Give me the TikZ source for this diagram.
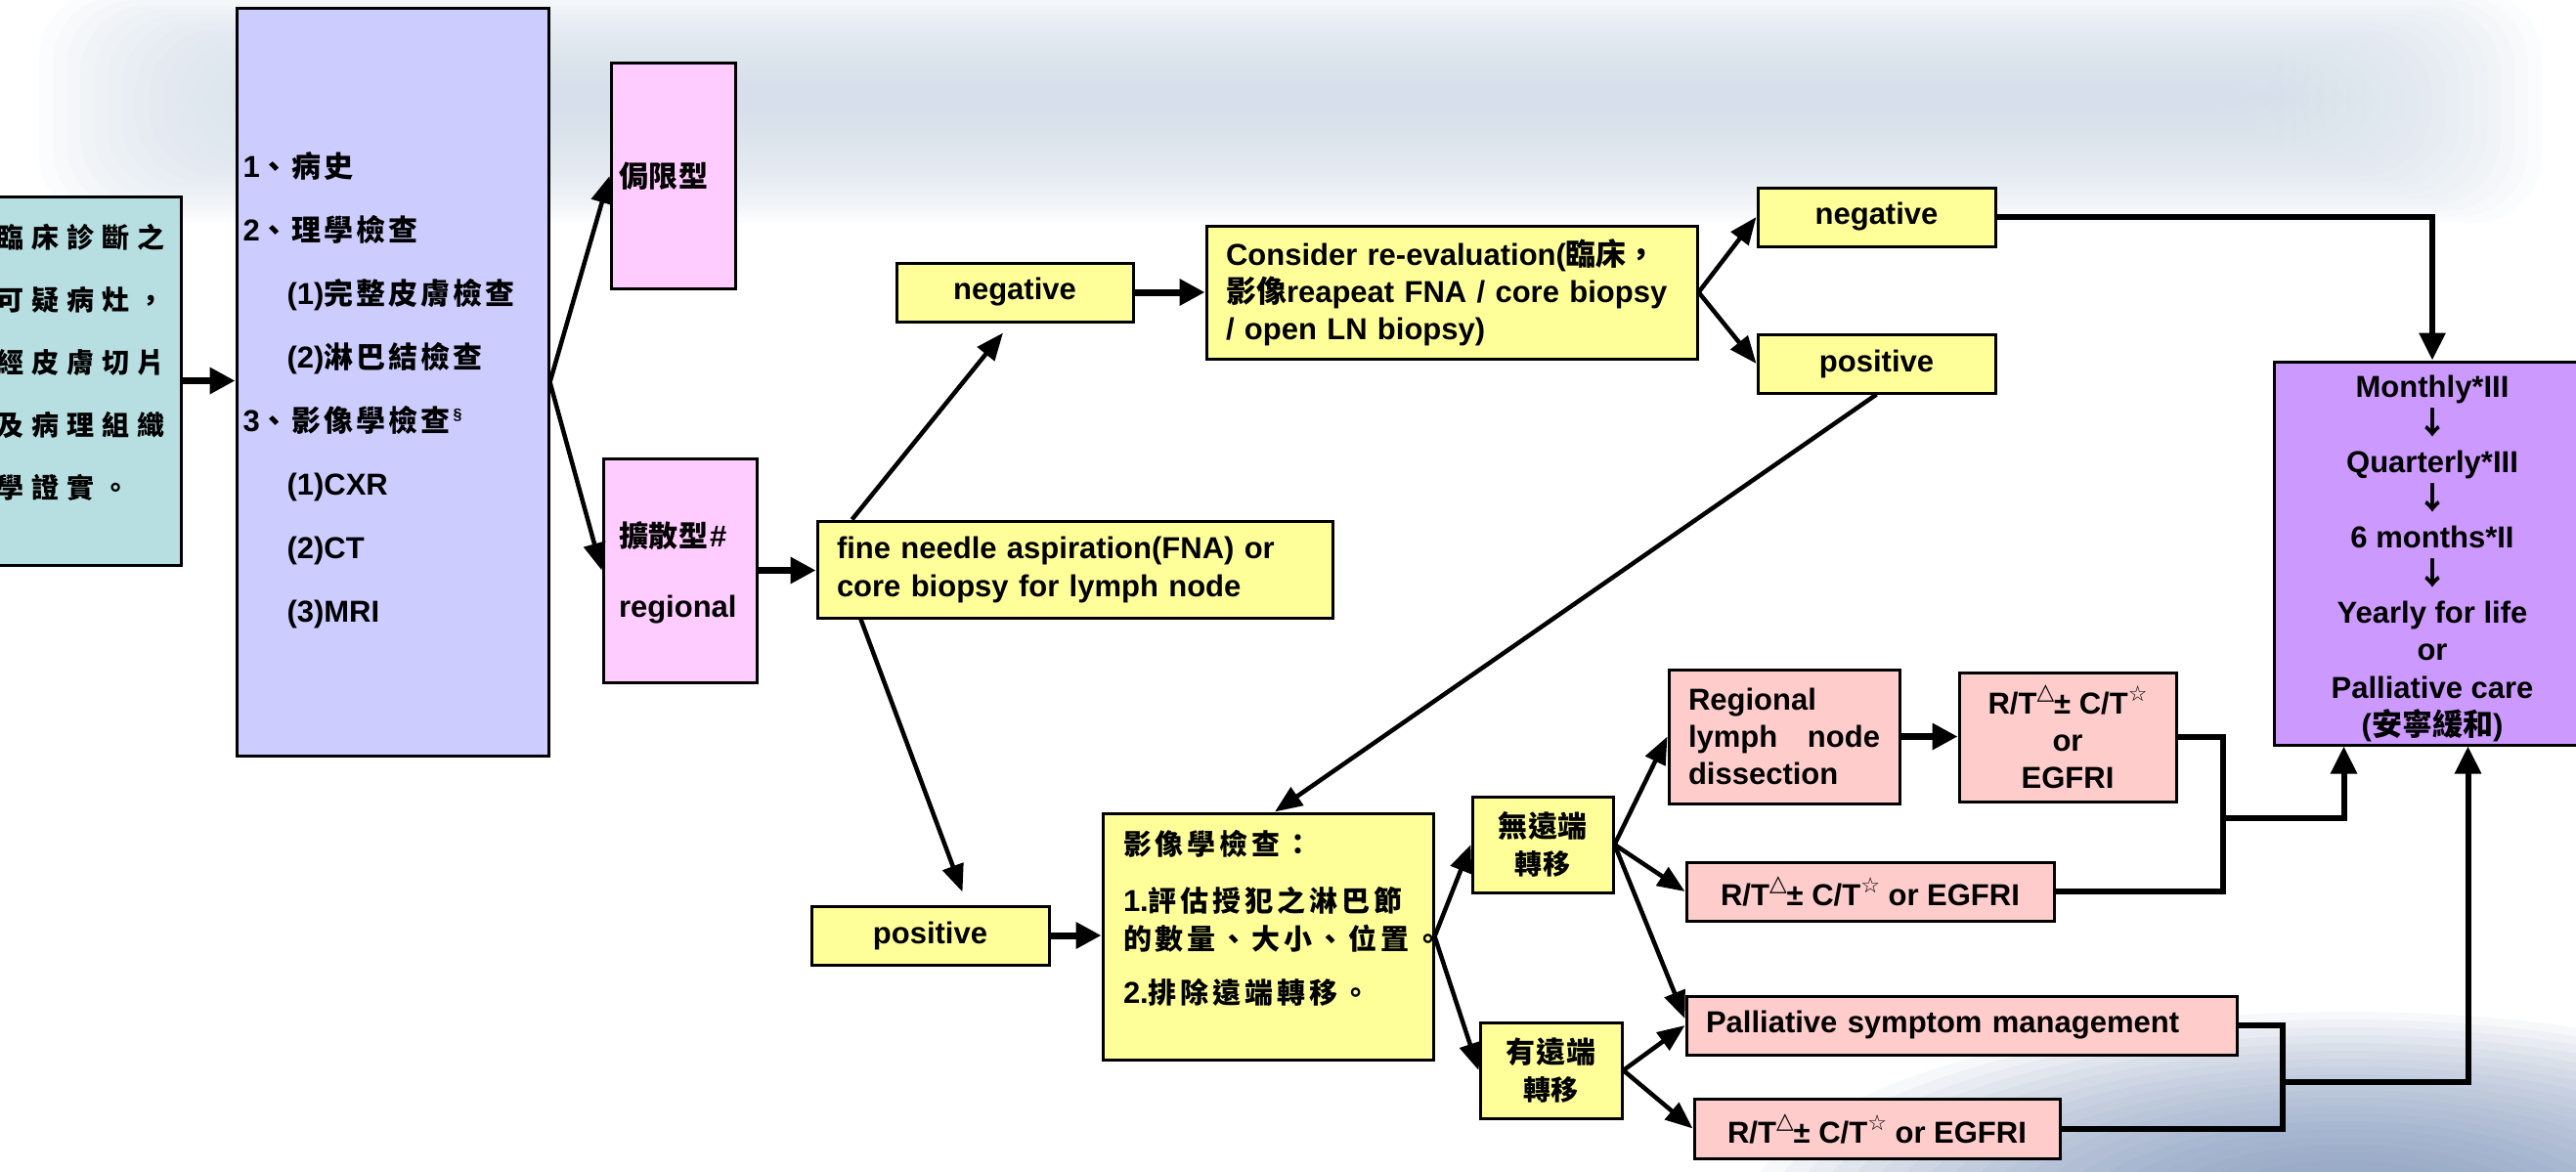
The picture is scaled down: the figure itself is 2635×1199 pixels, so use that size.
\documentclass[tikz,border=0pt]{standalone}
\usepackage{fontspec}
\setmainfont{Liberation Sans}
\newfontfamily\cjkfont{Noto Sans CJK TC Bold}
\newfontfamily\symfont{DejaVu Sans}
\usetikzlibrary{arrows.meta,calc}
\definecolor{cyanbox}{RGB}{183,222,225}
\definecolor{bluebox}{RGB}{204,204,255}
\definecolor{pinkbox}{RGB}{255,204,255}
\definecolor{yelbox}{RGB}{255,255,153}
\definecolor{salbox}{RGB}{255,204,204}
\definecolor{purbox}{RGB}{204,153,255}
\definecolor{cloudc}{RGB}{212,223,236}
\definecolor{cloudd}{RGB}{120,145,185}
\newlength\zgap
\def\zsz{28}
\def\zloop#1{\ifx#1\relax\else#1\hspace{\zgap}\expandafter\zloop\fi}
\newcommand\zs[2][3pt]{{\cjkfont\fontsize{\zsz}{\zsz}\selectfont\setlength\zgap{#1}\zloop#2\relax}}
\newcommand\zh[1]{{\cjkfont #1}}
\newcommand\trisup{\raisebox{15pt}{\symfont\mdseries\fontsize{23}{23}\selectfont △}}
\newcommand\starsup{\raisebox{13pt}{\symfont\mdseries\fontsize{22}{22}\selectfont ☆}}
\newcommand\fuarrow{{\cjkfont\fontsize{32}{32}\selectfont ↓}}
\tikzset{
  box/.style={draw=black, line width=3pt, inner sep=0pt, font=\bfseries\fontsize{31}{38}\selectfont},
  yel/.style={box, fill=yelbox},
  pnk/.style={box, fill=pinkbox},
  sal/.style={box, fill=salbox},
  arr/.style={line width=4.5pt, -{Triangle[length=28pt,width=22pt]}},
  thickarr/.style={line width=7pt, -{Triangle[length=26pt,width=26pt]}},
  elbow/.style={line width=6pt},
  elbowarr/.style={line width=6pt, -{Triangle[length=28pt,width=26pt]}},
}
\begin{document}
\begin{tikzpicture}[x=1pt,y=-1pt]
\useasboundingbox (0,0) rectangle (2635,1199);
\clip (0,0) rectangle (2635,1199);
\fill[white] (0,0) rectangle (2635,1199);
% background clouds
\foreach \i in {0,...,19}{\fill[cloudc, opacity=0.08, rounded corners=70pt] (40+\i*14, -10+\i*5) rectangle (2600-\i*14, 228-\i*6);}
\foreach \i in {0,...,19}{\fill[cloudd, opacity=0.06] (2400,1255) ellipse [x radius=620-\i*24, y radius=220-\i*8];}

% boxes
\node[box, fill=cyanbox, minimum width=200pt, minimum height=377pt, text width=176pt, align=left,
      font=\bfseries\fontsize{28}{64}\selectfont] (diag) at (85,389.5)
  {\zs[8pt]{臨床診斷之}\\\zs[8pt]{可疑病灶，}\\\zs[8pt]{經皮膚切片}\\\zs[8pt]{及病理組織}\\\zs[8pt]{學證實。}\rule[-40pt]{0pt}{0pt}};

\node[box, fill=bluebox, minimum width=319pt, minimum height=764pt, text width=306pt, align=left,
      font=\bfseries\fontsize{31}{65}\selectfont] (hist) at (401.5,391)
  {\def\zsz{30}\rule{0pt}{42pt}1\zs{、病史}\\
   2\zs{、理學檢查}\\
   \hspace*{45pt}(1)\zs{完整皮膚檢查}\\
   \hspace*{45pt}(2)\zs{淋巴結檢查}\\
   3\zs{、影像學檢查}\raisebox{12pt}{\fontsize{16}{16}\selectfont §}\\
   \hspace*{45pt}(1)CXR\\
   \hspace*{45pt}(2)CT\\
   \hspace*{45pt}(3)MRI};

\node[pnk, minimum width=127pt, minimum height=230pt, text width=111pt, align=left] (loc) at (688.5,180)
  {\def\zsz{30}\zs[1pt]{侷限型}};
\node[pnk, minimum width=157pt, minimum height=229pt, text width=125pt, align=left,
      font=\bfseries\fontsize{31}{72}\selectfont] (reg) at (695.5,583.5)
  {\def\zsz{30}\rule{0pt}{30pt}\zs[1pt]{擴散型}\#\\regional};

\node[yel, minimum width=527pt, minimum height=99pt, text width=487pt, align=left,
      font=\bfseries\fontsize{31}{39}\selectfont] (fna) at (1099.5,582.5)
  {fine needle aspiration(FNA) or\\core biopsy for lymph node};
\node[yel, minimum width=242pt, minimum height=60pt] (neg1) at (1038,299) {negative};
\node[yel, minimum width=243pt, minimum height=60pt] (pos1) at (951.5,957) {positive};
\node[yel, minimum width=502pt, minimum height=136pt, text width=462pt, align=left] (cons) at (1485,299)
  {Consider re-evaluation(\zh{臨床，}\\\zh{影像}reapeat FNA / core biopsy\\/ open LN biopsy)};
\node[yel, minimum width=243pt, minimum height=60pt] (neg2) at (1919.5,222) {negative};
\node[yel, minimum width=243pt, minimum height=60pt] (pos2) at (1919.5,372) {positive};

\node[box, fill=purbox, minimum width=324pt, minimum height=392pt, align=center,
      font=\bfseries\fontsize{31}{38.5}\selectfont] (fu) at (2488,566)
  {\rule{0pt}{33pt}Monthly*III\\\fuarrow\\Quarterly*III\\\fuarrow\\6 months*II\\\fuarrow\\Yearly for life\\or\\Palliative care\\(\zh{安寧緩和})};

\node[yel, minimum width=338pt, minimum height=252pt, text width=296pt, align=left,
      font=\bfseries\fontsize{31}{38.5}\selectfont] (img) at (1297,958)
  {\def\zsz{29}\zs[4pt]{影像學檢查：}\\[20pt]
   1.\zs[4pt]{評估授犯之淋巴節}\\
   \makebox[296pt][l]{\zs[4pt]{的數量、大小、位置。}}\\[17pt]
   2.\zs[4pt]{排除遠端轉移。}\rule[-40pt]{0pt}{0pt}};

\node[yel, minimum width=144pt, minimum height=98pt, align=center] (nodm) at (1578,864)
  {\def\zsz{30}\zs[1pt]{無遠端}\\\zs[1pt]{轉移}};
\node[yel, minimum width=145pt, minimum height=98pt, align=center] (dm) at (1586.5,1095)
  {\def\zsz{30}\zs[1pt]{有遠端}\\\zs[1pt]{轉移}};

\node[sal, minimum width=236pt, minimum height=137pt, text width=196pt, align=left] (rlnd) at (1825,753.5)
  {Regional\\lymph\hfill node\\dissection};
\node[sal, minimum width=222pt, minimum height=132pt, align=center] (rt1) at (2115,754)
  {R/T\trisup± C/T\starsup\\or\\EGFRI};
\node[sal, minimum width=376pt, minimum height=60pt] (rt2) at (1913,912)
  {R/T\trisup± C/T\starsup\ or EGFRI};
\node[sal, minimum width=563pt, minimum height=60pt, text width=523pt, align=left] (pal) at (2006.5,1049)
  {Palliative symptom management};
\node[sal, minimum width=374pt, minimum height=61pt] (rt3) at (1920,1154.5)
  {R/T\trisup± C/T\starsup\ or EGFRI};

\coordinate (j1) at (2274,837);
\coordinate (j2) at (2335,1107);

% connectors
\draw[thickarr] (diag.east) -- (diag.east -| hist.west);
\draw[arr] (hist.east) -- (loc.west);
\draw[arr] (hist.east) -- (reg.west);
\draw[thickarr] (reg.east) -- (reg.east -| fna.west);
\draw[arr] ($(fna.north west)+(37,0)$) -- ($(neg1.south)+(-12,10)$);
\draw[arr] ($(fna.south west)+(46,0)$) -- ($(pos1.north)+(33,-13)$);
\draw[thickarr] (neg1.east) -- (neg1.east -| cons.west);
\draw[arr] (cons.east) -- (neg2.west);
\draw[arr] (cons.east) -- (pos2.west);
\draw[arr] (pos2.south) -- ($(img.north)+(7,0)$);
\draw[thickarr] (pos1.east) -- (pos1.east -| img.west);
\draw[arr] (img.east) -- (nodm.west);
\draw[arr] (img.east) -- (dm.west);
\draw[arr] (nodm.east) -- (rlnd.west);
\draw[arr] (nodm.east) -- (rt2.west);
\draw[arr] (nodm.east) -- ($(pal.west)+(0,-7)$);
\draw[arr] (dm.east) -- (pal.west);
\draw[arr] (dm.east) -- (rt3.west);
\draw[thickarr] (rlnd.east) -- (rlnd.east -| rt1.west);
\draw[elbowarr] (neg2.east) -| (fu.north);
\draw[elbow] (rt1.east) -| (j1);
\draw[elbow] (rt2.east) -| (j1);
\draw[elbowarr] (j1) -| ($(fu.south west)+(73,0)$);
\draw[elbow] (pal.east) -| (j2);
\draw[elbow] (rt3.east) -| (j2);
\draw[elbowarr] (j2) -| ($(fu.south west)+(200,0)$);
\end{tikzpicture}
\end{document}
